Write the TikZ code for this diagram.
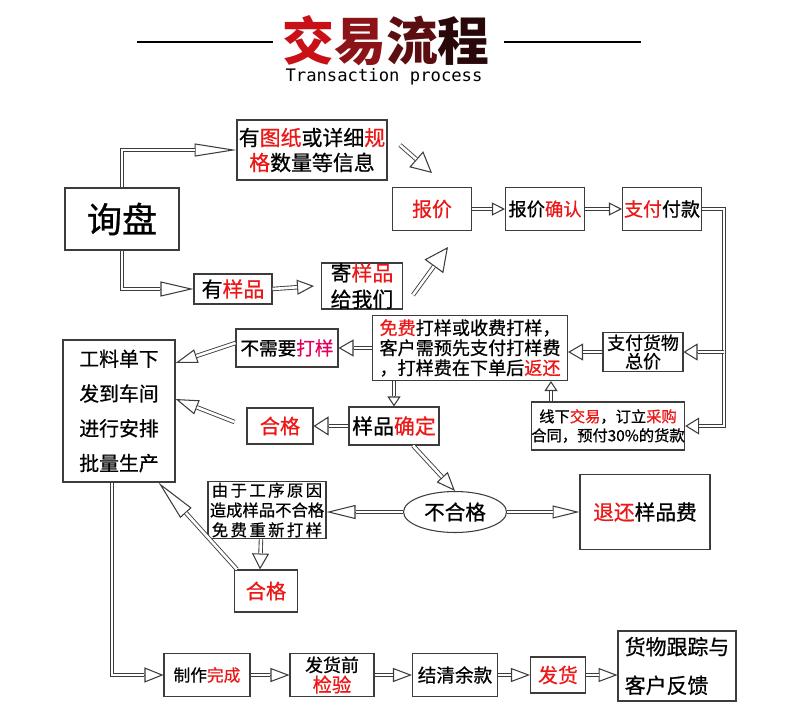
\documentclass[tikz,border=0pt]{standalone}
\usepackage{fontspec}
\newfontfamily\cjk[FakeBold=0.7]{Noto Sans CJK SC}
\newfontfamily\cjktitle{Noto Sans CJK SC}
\setmonofont{DejaVu Sans Mono}
\usetikzlibrary{arrows.meta,shapes.geometric}
\definecolor{hl}{RGB}{236,24,24}
\definecolor{hlpink}{RGB}{228,0,90}
\definecolor{frame}{RGB}{60,60,60}
\definecolor{tone1}{RGB}{200,16,22}
\definecolor{tone2}{RGB}{140,20,24}
\definecolor{tone3}{RGB}{90,14,16}
\definecolor{tone4}{RGB}{40,8,8}
\tikzset{
  box/.style       = {draw=frame, line width=0.6pt, inner sep=0pt, align=center},
  oval/.style      = {ellipse, draw=frame, line width=0.6pt, inner sep=0pt},
  hollow/.style 2 args = {line width=0.45pt, draw=frame,
                      -{Triangle[open,length=#1,width=#2,line width=0.6pt]},
                      postaction={draw=frame, -, double=white, double distance=1.5pt,
                                  line width=0.5pt, shorten >=#1}},
  rule/.style      = {line width=1.2pt},
}
\newcommand\fsz[2]{\cjk\fontsize{#1}{#2}\selectfont}

\begin{document}
\begin{tikzpicture}[x=0.02cm,y=-0.02cm]
  \useasboundingbox (0,0) rectangle (800,720);

  % title
  \draw[rule] (137,42) -- (273,42);
  \draw[rule] (504,42) -- (641,42);
  \node[inner sep=0pt, font=\cjktitle\fontsize{29.5}{30}\selectfont\bfseries] (title) at (386,41)
       {\textcolor{tone1}{交}\textcolor{tone2}{易}\textcolor{tone3}{流}\textcolor{tone4}{程}};
  \node[inner sep=0pt, font=\ttfamily\fontsize{9.8}{10}\selectfont] (subtitle) at (384,77) {Transaction process};

  % enquiry and quotation
  \node[box, minimum width=2.28cm, minimum height=1.24cm, font=\fsz{20}{22}] (xunpan) at (122,219) {询盘};
  \node[box, minimum width=3.0cm, minimum height=1.2cm, font=\fsz{11.9}{14.2}] (info) at (312,150)
       {有\textcolor{hl}{图纸}或详细\textcolor{hl}{规}\\\textcolor{hl}{格}数量等信息};
  \node[box, minimum width=1.56cm, minimum height=0.6cm, font=\fsz{11.9}{14}] (youyang) at (233,289)
       {有\textcolor{hl}{样品}};
  \node[box, minimum width=1.62cm, minimum height=0.92cm, font=\fsz{11.9}{15}] (jiyang) at (362,286)
       {寄\textcolor{hl}{样品}\\给我们};
  \node[box, minimum width=1.58cm, minimum height=0.86cm, font=\fsz{11.3}{13}] (baojia) at (432,209)
       {\textcolor{hl}{报价}};
  \node[box, minimum width=1.58cm, minimum height=0.86cm, font=\fsz{10.4}{12}] (queren) at (545,209)
       {报价\textcolor{hl}{确认}};
  \node[box, minimum width=1.58cm, minimum height=0.86cm, font=\fsz{10.8}{12}] (zhifu) at (662,209)
       {\textcolor{hl}{支付}付款};

  % sample stage
  \node[box, minimum width=3.9cm, minimum height=1.3cm, font=\fsz{10.3}{11.4}] (mianfei) at (470,348)
       {\textcolor{hl}{免费}打样或收费打样，\\客户需预先支付打样费\\，打样费在下单后\textcolor{hl}{返还}};
  \node[box, minimum width=1.6cm, minimum height=0.78cm, font=\fsz{10.2}{10.5}] (zhifuhw) at (643,352)
       {支付货物\\总价};
  \node[box, minimum width=3.04cm, minimum height=0.96cm, font=\fsz{8.7}{10.8}] (xianxia) at (608,426)
       {线下\textcolor{hl}{交易}，订立\textcolor{hl}{采购}\\合同，预付30\%的货款};
  \node[box, minimum width=2.04cm, minimum height=0.76cm, font=\fsz{10.6}{12}] (buxuyao) at (287,348)
       {不需要\textcolor{hlpink}{打样}};
  \node[box, minimum width=1.32cm, minimum height=0.72cm, font=\fsz{11.5}{13}] (hege1) at (280,426)
       {\textcolor{hl}{合格}};
  \node[box, minimum width=1.8cm, minimum height=0.76cm, font=\fsz{11.9}{13}] (queding) at (394,426)
       {样品\textcolor{hl}{确定}};
  \node[box, minimum width=2.24cm, minimum height=2.84cm, font=\fsz{11.3}{19.8}] (gongliao) at (119,411)
       {工料单下\\发到车间\\进行安排\\批量生产};
  \node[oval, minimum width=2.06cm, minimum height=0.82cm, font=\fsz{11.7}{13}] (buhege) at (455,512)
       {不合格};
  \node[box, minimum width=2.36cm, minimum height=1.14cm, font=\fsz{9.3}{11.3}] (youyu) at (267,510)
       {{\addfontfeature{LetterSpace=15}由于工序原因}\\造成样品不合格\\{\addfontfeature{LetterSpace=15}免费重新打样}};
  \node[box, minimum width=2.6cm, minimum height=1.5cm, font=\fsz{11.8}{13}] (tuihuan) at (645,512)
       {\textcolor{hl}{退还}样品费};
  \node[box, minimum width=1.26cm, minimum height=0.84cm, font=\fsz{11.5}{13}] (hege2) at (266,591)
       {\textcolor{hl}{合格}};

  % production and delivery
  \node[box, minimum width=1.72cm, minimum height=0.86cm, font=\fsz{9.5}{11}] (zhizuo) at (207,675)
       {制作\textcolor{hl}{完成}};
  \node[box, minimum width=1.68cm, minimum height=0.86cm, font=\fsz{10.2}{11.5}] (jianyan) at (332,675)
       {发货前\\\textcolor{hl}{\fontsize{11}{11.5}\selectfont 检验}};
  \node[box, minimum width=1.7cm, minimum height=0.86cm, font=\fsz{10.6}{12}] (jieqing) at (455,675)
       {结清余款};
  \node[box, minimum width=1.1cm, minimum height=0.72cm, font=\fsz{11.3}{13}] (fahuo) at (558,675)
       {\textcolor{hl}{发货}};
  \node[box, minimum width=2.36cm, minimum height=1.4cm, align=left, font=\fsz{11.9}{22}] (genzong) at (677,666)
       {货物跟踪与\\客户反馈};

  % free ends of the slanted arrows
  \coordinate (d1s) at (400,145);  \coordinate (d1e) at (432,173);
  \coordinate (d2s) at (413,295);  \coordinate (d2e) at (448,247);
  \coordinate (bus) at (724,352);

  % connectors
  \draw[hollow={0.84cm}{0.26cm}] (xunpan.north) |- (info.west);
  \draw[hollow={0.66cm}{0.3cm}] (xunpan.south) |- (youyang.west);
  \draw[hollow={0.34cm}{0.3cm}] (youyang.east) -- ([xshift=-0.14cm]jiyang.west);
  \draw[hollow={0.42cm}{0.42cm}] (d1s) -- (d1e);
  \draw[hollow={0.48cm}{0.46cm}] (d2s) -- (d2e);
  \draw[hollow={0.26cm}{0.26cm}] (baojia.east) -- (queren.west);
  \draw[hollow={0.26cm}{0.26cm}] (queren.east) -- (zhifu.west);

  \draw[hollow={0.28cm}{0.34cm}] (zhifu.east) -| (bus) |- (xianxia.east);
  \draw[hollow={0.28cm}{0.34cm}] (bus) -- (zhifuhw.east);
  \draw[hollow={0.3cm}{0.34cm}] (zhifuhw.west) -- (mianfei.east |- zhifuhw.west);
  \draw[hollow={0.3cm}{0.34cm}] (mianfei.west) -- (buxuyao.east);
  \draw[hollow={0.2cm}{0.26cm}] (queding.north |- mianfei.south) -- (queding.north);
  \draw[hollow={0.2cm}{0.26cm}] ([xshift=-1.14cm]xianxia.north) coordinate (xu) -- (xu |- mianfei.south);
  \draw[hollow={0.3cm}{0.38cm}] (queding.west) -- (hege1.east);

  \draw[hollow={0.44cm}{0.28cm}] ([yshift=0.1cm]buxuyao.west) -- ([yshift=0.96cm]gongliao.east);
  \draw[hollow={0.46cm}{0.3cm}] ([xshift=-0.24cm,yshift=0.08cm]hege1.west) -- ([yshift=0.24cm]gongliao.east);
  \draw[hollow={0.38cm}{0.3cm}] ([xshift=0.38cm]queding.south) -- (buhege.north);
  \draw[hollow={0.58cm}{0.28cm}] (buhege.west) -- (youyu.east |- buhege.west);
  \draw[hollow={0.54cm}{0.26cm}] (buhege.east) -- (tuihuan.west);
  \draw[hollow={0.32cm}{0.34cm}] ([xshift=-0.12cm]youyu.south) -- ([xshift=-0.12cm]hege2.north);
  \draw[hollow={0.82cm}{0.3cm}] ([xshift=0.06cm]hege2.north west) -- ([xshift=-0.34cm]gongliao.south east);

  \draw[hollow={0.38cm}{0.3cm}] ([xshift=-0.14cm]gongliao.south) |- (zhizuo.west);
  \draw[hollow={0.38cm}{0.28cm}] (zhizuo.east) -- (jianyan.west);
  \draw[hollow={0.38cm}{0.28cm}] (jianyan.east) -- (jieqing.west);
  \draw[hollow={0.38cm}{0.28cm}] (jieqing.east) -- (fahuo.west);
  \draw[hollow={0.38cm}{0.28cm}] (fahuo.east) -- (genzong.west |- fahuo.east);
\end{tikzpicture}
\end{document}
